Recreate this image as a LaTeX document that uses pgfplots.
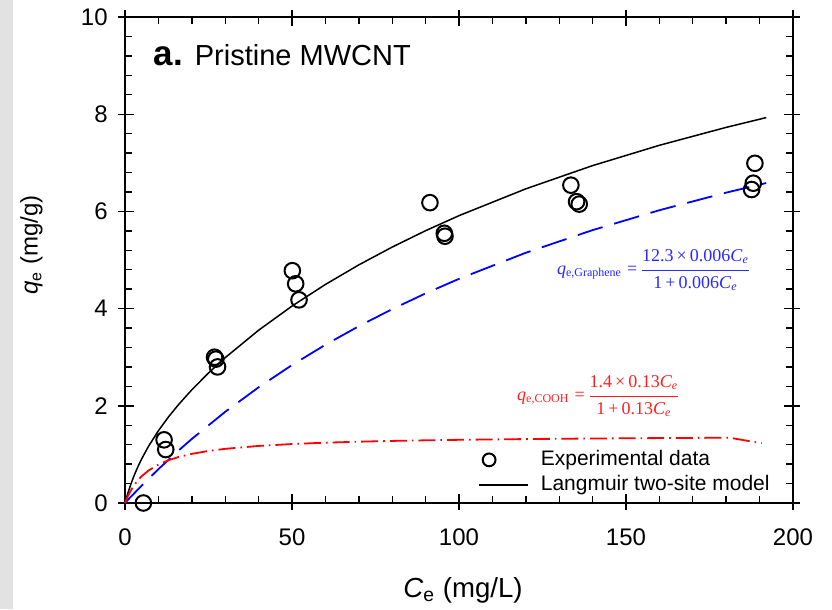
\documentclass[border=0pt]{standalone}
\usepackage{pgfplots}
\pgfplotsset{compat=1.18}
\usepackage{fontspec}
\setmainfont{Liberation Sans}
\newfontfamily\timesfont{Liberation Serif}
\definecolor{eqblue}{RGB}{40,40,255}
\definecolor{eqred}{RGB}{255,30,30}
\definecolor{bggray}{RGB}{226,226,226}
\pgfplotsset{
  markleg/.style={legend image code/.code={\draw[mark repeat=2, mark phase=2, ##1, mark size=3.2pt] plot coordinates {(0pt,0pt) (5pt,0pt) (24.5pt,0pt)};}},
  lineleg/.style={legend image code/.code={\draw[##1] (0pt,0pt) -- (24.5pt,0pt);}},
}
\begin{document}
\begin{tikzpicture}
\begin{axis}[
  scale only axis, width=334pt, height=243pt,
  xmin=0, xmax=200, ymin=0, ymax=10,
  xtick={0,50,...,200}, ytick={0,2,...,10},
  minor x tick num=4, minor y tick num=4,
  tick align=inside,
  major tick length=4.5pt, minor tick length=3.5pt,
  axis line style={line width=1pt},
  tick style={black, line width=0.7pt},
  extra x ticks={0,50,...,200}, extra y ticks={0,2,...,10},
  extra x tick labels={}, extra y tick labels={},
  extra tick style={tick align=outside, major tick length=3.5pt},
  /pgf/number format/assume math mode=true,
  ticklabel style={font=\fontsize{12}{12}\selectfont},
  xticklabel style={anchor=north, inner sep=0pt, yshift=-12.5pt},
  yticklabel style={anchor=east, inner sep=0pt, xshift=-8.5pt},
  clip=false,
  xlabel={\textit{C}\textsubscript{e} (mg/L)},
  ylabel={\textit{q}\textsubscript{e} (mg/g)},
  every axis x label/.style={at={(axis description cs:0.506,-0.179)}, anchor=center, font=\fontsize{13.8}{13.8}\selectfont},
  every axis y label/.style={at={(axis description cs:-0.14,0.531)}, anchor=center, rotate=90, font=\fontsize{12}{12}\selectfont},
  legend style={draw=none, fill=none, at={(axis description cs:0.5284,0.1099)}, anchor=north west,
    inner sep=0pt, column sep=6pt, row sep=2.6pt, font=\fontsize{10.5}{10.5}\selectfont,
    cells={anchor=west}, nodes={inner sep=0pt, text height=7.7pt, text depth=2.2pt}},
]
% background strip and bounding box
\fill[bggray] (axis cs:-37.43,-2.181) rectangle (axis cs:-33.5,10.35);
\path (axis cs:-37.43,-2.181) rectangle (axis cs:211.68,10.35);

\addplot[only marks, mark=o, mark size=3.9pt, line width=1pt, black, markleg]
  coordinates {
  (5.5,0.0) (11.7,1.30) (12.2,1.10)
  (26.8,3.00) (27.2,2.96) (27.7,2.80)
  (50.1,4.78) (51.1,4.51) (52.1,4.18)
  (91.3,6.18) (95.6,5.55) (95.8,5.49)
  (133.5,6.54) (135.2,6.20) (136.0,6.15)
  (188.6,6.99) (188.1,6.58) (187.6,6.45)
  };
\addlegendentry{Experimental data}

\addplot[black, line width=0.75pt, line join=round, lineleg]
  coordinates {
  (0,0) (0.5,0.1222) (1,0.2345) (2,0.4348) (3,0.6103) (4,0.7672) (5,0.9098)
  (7,1.1628) (10,1.4875) (13,1.7696) (16,2.0229) (20,2.3290) (25,2.6749)
  (30,2.9906) (40,3.5548) (50,4.0518) (60,4.4968) (70,4.8994) (80,5.2664)
  (90,5.6028) (100,5.9125) (120,6.4645) (140,6.9423) (160,7.3603)
  (180,7.7291) (192,7.9305)
  };
\addlegendentry{Langmuir two-site model}

\addplot[blue, line width=0.9pt, dash pattern=on 13pt off 6pt, forget plot]
  coordinates {
  (0,0) (2,0.1459) (5,0.3583) (10,0.6962) (16,1.0774) (20,1.3179)
  (30,1.8763) (40,2.3806) (50,2.8385) (60,3.2559) (70,3.6380) (80,3.9892)
  (90,4.3130) (100,4.6125) (120,5.1488) (140,5.6152) (160,6.0245)
  (180,6.3865) (192,6.5844)
  };

\addplot[red, line width=0.9pt, dash pattern=on 8.5pt off 2.5pt on 0.8pt off 2.5pt, forget plot]
  coordinates {
  (0,0) (0.5,0.0854) (1,0.1611) (2,0.2889) (3,0.3928) (4,0.4789) (5,0.5515)
  (7,0.6670) (10,0.7913) (13,0.8796) (16,0.9455) (20,1.0111) (25,1.0706)
  (30,1.1143) (40,1.1742) (50,1.2133) (60,1.2409) (70,1.2614) (80,1.2772)
  (90,1.2898) (100,1.3000) (120,1.3157) (140,1.3271) (160,1.3358)
  (181,1.3430) (190.6,1.23)
  };

\node[anchor=base west, inner sep=0pt] at (axis cs:8.47,9.0)
  {{\bfseries\fontsize{17.5}{17.5}\selectfont a.}\hspace{6pt}{\fontsize{14.5}{14.5}\selectfont Pristine MWCNT}};

\node[anchor=west, inner sep=0pt, text=eqblue, font=\timesfont\fontsize{9}{11}\selectfont] at (axis cs:129.25,4.794)
  {\textit{q}\textsubscript{e,Graphene}\hspace{2.5pt}=\hspace{2.5pt}\renewcommand{\arraystretch}{1.2}\begin{tabular}{@{}c@{}}12.3\,×\,0.006\textit{C}\textsubscript{\textit{e}}\\\hline 1\,+\,0.006\textit{C}\textsubscript{\textit{e}}\end{tabular}};

\node[anchor=west, inner sep=0pt, text=eqred, font=\timesfont\fontsize{9}{11}\selectfont] at (axis cs:117.3,2.20)
  {\textit{q}\textsubscript{e,COOH}\hspace{2.5pt}=\hspace{2.5pt}\renewcommand{\arraystretch}{1.2}\begin{tabular}{@{}c@{}}1.4\,×\,0.13\textit{C}\textsubscript{\textit{e}}\\\hline 1\,+\,0.13\textit{C}\textsubscript{\textit{e}}\end{tabular}};
\end{axis}
\end{tikzpicture}
\end{document}
